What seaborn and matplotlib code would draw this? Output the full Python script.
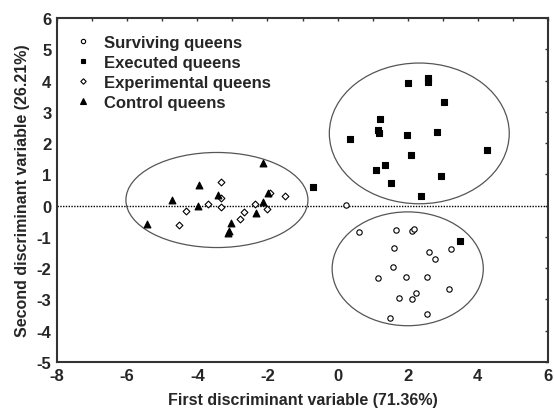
import matplotlib
matplotlib.use("Agg")
import matplotlib.pyplot as plt
from matplotlib.patches import Ellipse
from matplotlib.lines import Line2D
import seaborn as sns
import pandas as pd

sns.set_style("white")
plt.rcParams['font.family'] = ['Liberation Sans', 'DejaVu Sans']
plt.rcParams['font.weight'] = 'bold'

# ---- data ----
surv_x = [0.24, 0.62, 1.68, 2.12, 2.17, 1.61, 2.62, 3.24, 2.78, 1.59, 1.14, 1.96, 2.54, 3.18, 2.23, 1.75, 2.12, 2.54, 1.50]
surv_y = [0.03, -0.84, -0.78, -0.82, -0.75, -1.35, -1.48, -1.40, -1.71, -1.95, -2.31, -2.29, -2.29, -2.65, -2.78, -2.94, -3.00, -3.47, -3.58]

exec_x = [2.02, 2.59, 2.57, 3.04, 1.20, 1.15, 1.18, 0.35, 1.98, 2.83, 4.27, 2.10, 1.36, 1.10, 2.96, 1.52, 2.39, -0.69, 3.50]
exec_y = [3.92, 4.08, 3.95, 3.32, 2.77, 2.43, 2.33, 2.14, 2.26, 2.37, 1.78, 1.62, 1.31, 1.15, 0.95, 0.71, 0.32, 0.58, -1.12]

expt_x = [-3.32, -3.32, -1.93, -1.49, -3.69, -3.32, -2.35, -2.00, -4.32, -2.67, -2.79, -4.52]
expt_y = [0.76, 0.25, 0.41, 0.30, 0.06, -0.03, 0.04, -0.12, -0.18, -0.20, -0.44, -0.61]

ctrl_x = [-2.12, -3.94, -3.40, -1.97, -4.73, -3.99, -2.14, -2.33, -5.44, -3.05, -3.10, -3.12]
ctrl_y = [1.36, 0.65, 0.35, 0.40, 0.17, -0.01, 0.12, -0.25, -0.58, -0.55, -0.82, -0.87]

group_names = ["Surviving queens", "Executed queens", "Experimental queens", "Control queens"]

# confidence ellipses: centre x, centre y, width, height
ell_cx = [-3.44, 2.33, 2.00]
ell_cy = [0.18, 2.31, -2.02]
ell_w = [5.19, 5.13, 4.31]
ell_h = [3.04, 4.50, 3.64]

x_ticks = [-8, -6, -4, -2, 0, 2, 4, 6]
y_ticks = [-5, -4, -3, -2, -1, 0, 1, 2, 3, 4, 5, 6]

xlabel = "First discriminant variable (71.36%)"
ylabel = "Second discriminant variable (26.21%)"

# ---- build table ----
df = pd.concat([
    pd.DataFrame({"x": surv_x, "y": surv_y, "group": group_names[0]}),
    pd.DataFrame({"x": exec_x, "y": exec_y, "group": group_names[1]}),
    pd.DataFrame({"x": expt_x, "y": expt_y, "group": group_names[2]}),
    pd.DataFrame({"x": ctrl_x, "y": ctrl_y, "group": group_names[3]}),
], ignore_index=True)

styles = {
    group_names[0]: dict(marker="o", fc="white", s=15),
    group_names[1]: dict(marker="s", fc="black", s=19),
    group_names[2]: dict(marker="D", fc="white", s=12),
    group_names[3]: dict(marker="^", fc="black", s=24),
}

fig = plt.figure(figsize=(5.54, 4.14), dpi=100)
ax = fig.add_axes([57/554, 1-363/414, (548-57)/554, (363-19)/414])

ax.axhline(0, color="black", lw=1.0, ls=(0, (1, 1)), zorder=1)

for cx, cy, w, h in zip(ell_cx, ell_cy, ell_w, ell_h):
    ax.add_patch(Ellipse((cx, cy), w, h, fill=False, ec="#555555", lw=0.9, zorder=2))

for g in group_names:
    st = styles[g]
    sub = df[df["group"] == g]
    sns.scatterplot(data=sub, x="x", y="y", marker=st["marker"], s=st["s"],
                    color=st["fc"], edgecolor="black", linewidth=0.8,
                    ax=ax, zorder=3, legend=False)

ax.set_xlim(-8, 6)
ax.set_ylim(-5, 6)
ax.set_xticks(x_ticks)
ax.set_yticks(y_ticks)
ax.set_xticklabels([str(t) for t in x_ticks], fontsize=12, fontweight="bold")
ax.set_yticklabels([str(t) for t in y_ticks], fontsize=12, fontweight="bold")
ax.tick_params(axis="both", direction="in", length=2.5, width=1, color="#333333", pad=4)

# secondary ticks on top and right
top = ax.secondary_xaxis("top")
top.set_xticks(list(range(-8, 7)))
top.set_xticklabels([])
top.tick_params(direction="in", length=2.5, width=1, color="#333333")
right = ax.secondary_yaxis("right")
right.set_yticks(y_ticks)
right.set_yticklabels([])
right.tick_params(direction="in", length=2.5, width=1, color="#333333")
for sp in list(top.spines.values()) + list(right.spines.values()):
    sp.set_visible(False)

for sp in ax.spines.values():
    sp.set_visible(True)
    sp.set_color("#333333")
    sp.set_linewidth(1.5)

ax.set_xlabel(xlabel, fontsize=11.5, fontweight="bold", labelpad=7)
ax.set_ylabel(ylabel, fontsize=11.5, fontweight="bold", labelpad=5)

handles = []
for g in group_names:
    st = styles[g]
    handles.append(Line2D([], [], ls="none", marker=st["marker"], mfc=st["fc"], mec="black",
                          mew=0.8, ms=(st["s"] ** 0.5) * 0.8))
leg = ax.legend(handles, group_names, loc="upper left", bbox_to_anchor=(0.012, 0.985),
                frameon=False, prop={"weight": "bold", "size": 12},
                handletextpad=0.75, labelspacing=0.3, borderaxespad=0.3, handlelength=1.0)

fig.savefig("out.png", dpi=100)
